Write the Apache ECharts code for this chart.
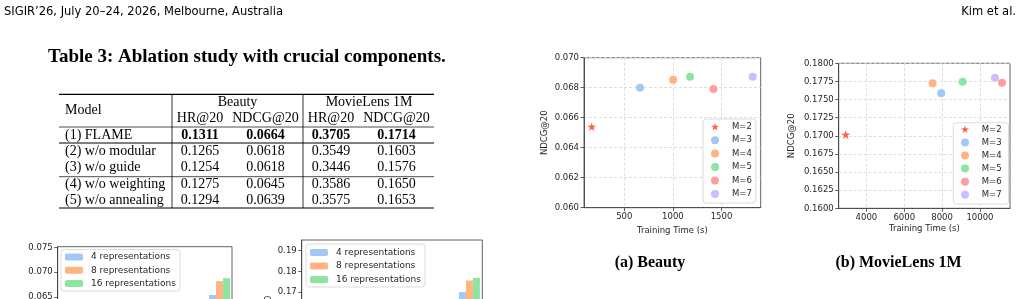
<!DOCTYPE html>
<html>
<head>
<meta charset="UTF-8">
<title>Table 3 ablation and M sweep</title>
<script src="https://cdn.jsdelivr.net/npm/echarts@6/dist/echarts.min.js"></script>
<style>
  html, body { margin: 0; background: #fff; overflow: hidden; }
  #main { width: 1021px; height: 299px; }
</style>
</head>
<body>
<div id="main"></div>
<script type="text/javascript">
// ---- page text ----
var headerLeft = 'SIGIR\u201926, July 20\u201324, 2026, Melbourne, Australia';
var headerRight = 'Kim et al.';
var tableTitle = 'Table 3: Ablation study with crucial components.';
var captions = ['(a) Beauty', '(b) MovieLens 1M'];

// ---- table 3 ----
var datasets = ['Beauty', 'MovieLens 1M'];
var metrics = ['HR@20', 'NDCG@20', 'HR@20', 'NDCG@20'];
var models = ['(1) FLAME', '(2) w/o modular', '(3) w/o guide', '(4) w/o weighting', '(5) w/o annealing'];
var results = [
    [0.1311, 0.0664, 0.3705, 0.1714],
    [0.1265, 0.0618, 0.3549, 0.1603],
    [0.1254, 0.0618, 0.3446, 0.1576],
    [0.1275, 0.0645, 0.3586, 0.1650],
    [0.1294, 0.0639, 0.3575, 0.1653]
];

// ---- scatter: training time vs NDCG@20 for each M ----
var mNames = ['M=2', 'M=3', 'M=4', 'M=5', 'M=6', 'M=7'];
var beautyTime = [166, 662, 1003, 1176, 1417, 1821];
var beautyNdcg = [0.0654, 0.0680, 0.06853, 0.06873, 0.06791, 0.06873];
var mlTime = [2906, 7953, 7494, 9082, 11164, 10794];
var mlNdcg = [0.17016, 0.17586, 0.17724, 0.17747, 0.17733, 0.17802];
var beautyTimeTicks = [500, 1000, 1500];
var mlTimeTicks = [4000, 6000, 8000, 10000];

// ---- bars: number of representations (only the last group is inside the crop,
//      the other groups sit below the bottom edge, so they stay null) ----
var repNames = ['4 representations', '8 representations', '16 representations'];
var repGroups = ['g1', 'g2', 'g3', 'g4', 'g5', 'g6', 'g7'];
var beautyRep4 = [null, null, null, null, null, null, 0.0654];
var beautyRep8 = [null, null, null, null, null, null, 0.0682];
var beautyRep16 = [null, null, null, null, null, null, 0.0688];
var mlRep4 = [null, null, null, null, null, null, 0.1700];
var mlRep8 = [null, null, null, null, null, null, 0.1756];
var mlRep16 = [null, null, null, null, null, null, 0.1769];

var chart = echarts.init(document.getElementById('main'));

var serif = '"Liberation Serif", "DejaVu Serif", serif';
var sans = '"DejaVu Sans", sans-serif';
var narrow = '"Liberation Sans Narrow", "DejaVu Sans Condensed", sans-serif';
var mColors = ['#ff6347', '#a1c9f4', '#ffb482', '#8de5a1', '#ff9f9b', '#d0bbff'];
var repColors = ['#a1c9f4', '#ffb482', '#8de5a1'];
var starPath = 'path://M50,0L61.8,35.1L98.9,35.5L69.1,57.6L80.3,93L50,71.5L19.7,93L30.9,57.6L1.1,35.5L38.2,35.1Z';
var ink = '#262626';
var frame = '#3a3a3a';

function txt(text, x, y, font, align) {
    return {
        type: 'text', silent: true,
        style: {
            text: text, x: x, y: y, font: font, fill: '#000',
            textAlign: align || 'left', align: align || 'left',
            textVerticalAlign: 'middle', verticalAlign: 'middle'
        }
    };
}
function rule(x1, y1, x2, y2, w, c) {
    return {
        type: 'line', silent: true,
        shape: { x1: x1, y1: y1, x2: x2, y2: y2 },
        style: { stroke: c || '#000', lineWidth: w }
    };
}

// table layout
var colX = [200, 265.5, 331, 396.5];
var groupX = [237.5, 369];
var rowY = [135, 151.7, 167.7, 184, 200];
var body = '14px ' + serif;

var graphics = [];
graphics.push(txt(headerLeft, 4, 12, '12.8px ' + narrow));
graphics.push(txt(headerRight, 1016, 12, '12.8px ' + narrow, 'right'));
graphics.push(txt(tableTitle, 48, 57.5, 'bold 19px ' + serif));

graphics.push(rule(59, 94.3, 434, 94.3, 1.2));
graphics.push(rule(59, 127, 434, 127, 0.7));
graphics.push(rule(59, 143, 434, 143, 1.5, '#555'));
graphics.push(rule(59, 176.7, 434, 176.7, 0.7));
graphics.push(rule(59, 208, 434, 208, 1.2));
graphics.push(rule(172, 94.3, 172, 208, 0.8));
graphics.push(rule(303, 94.3, 303, 208, 0.8));

graphics.push(txt('Model', 65, 110, body));
datasets.forEach(function (d, i) { graphics.push(txt(d, groupX[i], 102, body, 'center')); });
metrics.forEach(function (m, i) { graphics.push(txt(m, colX[i], 118.5, body, 'center')); });
models.forEach(function (m, r) {
    graphics.push(txt(m, 65, rowY[r], body));
    results[r].forEach(function (v, c) {
        graphics.push(txt(v.toFixed(4), colX[c], rowY[r], (r === 0 ? 'bold ' : '') + body, 'center'));
    });
});

graphics.push(txt(captions[0], 650, 263, 'bold 16px ' + serif, 'center'));
graphics.push(txt(captions[1], 898.5, 263, 'bold 16px ' + serif, 'center'));

// axes helpers
function labelStyle(fmt, extra) {
    var o = { color: ink, fontSize: 8.5, fontFamily: sans, margin: 5, formatter: fmt };
    for (var k in extra) o[k] = extra[k];
    return o;
}
function plain(v) { return String(v); }
var dashed = { show: true, lineStyle: { type: [3, 2], color: '#d6d6d6', width: 0.8 } };
var axisLine = { show: true, lineStyle: { color: frame, width: 0.8 } };
var tick = { show: true, length: 3.5, lineStyle: { color: frame, width: 0.8 } };
var nameStyle = { color: ink, fontSize: 8.5, fontFamily: sans };
function gridBox(left, top, width, height) {
    return {
        left: left, top: top, width: width, height: height,
        show: true, borderColor: frame, borderWidth: 0.8, backgroundColor: 'transparent',
        containLabel: false, outerBoundsMode: 'none'
    };
}

var series = [];
mNames.forEach(function (n, i) {
    series.push({
        type: 'scatter', name: n, xAxisIndex: 0, yAxisIndex: 0,
        data: [[beautyTime[i], beautyNdcg[i]]],
        symbol: i === 0 ? starPath : 'circle', symbolKeepAspect: true,
        symbolSize: i === 0 ? 9 : 8,
        itemStyle: { color: mColors[i], opacity: 1 }
    });
    series.push({
        type: 'scatter', name: n, xAxisIndex: 1, yAxisIndex: 1,
        data: [[mlTime[i], mlNdcg[i]]],
        symbol: i === 0 ? starPath : 'circle', symbolKeepAspect: true,
        symbolSize: i === 0 ? 9 : 8,
        itemStyle: { color: mColors[i], opacity: 1 }
    });
});
[beautyRep4, beautyRep8, beautyRep16].forEach(function (d, k) {
    series.push({ type: 'bar', name: repNames[k], xAxisIndex: 2, yAxisIndex: 2, data: d,
        barWidth: 7, barGap: '0%', itemStyle: { color: repColors[k] } });
});
[mlRep4, mlRep8, mlRep16].forEach(function (d, k) {
    series.push({ type: 'bar', name: repNames[k], xAxisIndex: 3, yAxisIndex: 3, data: d,
        barWidth: 7, barGap: '0%', itemStyle: { color: repColors[k] } });
});

function legendBox(data, left, top, padding, itemWidth, itemHeight, gap, font, lh, textPad) {
    return {
        data: data, orient: 'vertical', left: left, top: top, padding: padding,
        itemWidth: itemWidth, itemHeight: itemHeight, itemGap: gap, selectedMode: false,
        textStyle: { color: ink, fontSize: font, fontFamily: sans, lineHeight: lh, padding: [0, 0, 0, textPad] },
        backgroundColor: 'rgba(255,255,255,0.85)', borderColor: '#d3d3d3', borderWidth: 0.8, borderRadius: 3
    };
}

var option = {
    animation: false,
    backgroundColor: '#fff',
    graphic: graphics,
    grid: [
        gridBox(584, 57.7, 176.7, 150),
        gridBox(838.7, 63.3, 171.3, 145),
        gridBox(57.7, 246.7, 174.3, 148.6),
        gridBox(301.7, 240, 180.6, 156)
    ],
    xAxis: [
        {
            type: 'value', gridIndex: 0, min: 86, max: 1903, minInterval: 500, maxInterval: 500,
            axisLine: axisLine, axisTick: { show: true, length: 3.5, lineStyle: tick.lineStyle, customValues: beautyTimeTicks },
            axisLabel: labelStyle(plain, { customValues: beautyTimeTicks }),
            splitLine: dashed,
            name: 'Training Time (s)', nameLocation: 'middle', nameGap: 17, nameTextStyle: nameStyle
        },
        {
            type: 'value', gridIndex: 1, min: 2535, max: 11588, minInterval: 2000, maxInterval: 2000,
            axisLine: axisLine, axisTick: { show: true, length: 3.5, lineStyle: tick.lineStyle, customValues: mlTimeTicks },
            axisLabel: labelStyle(plain, { customValues: mlTimeTicks }),
            splitLine: dashed,
            name: 'Training Time (s)', nameLocation: 'middle', nameGap: 16, nameTextStyle: nameStyle
        },
        {
            type: 'category', gridIndex: 2, data: repGroups,
            axisLine: axisLine, axisTick: { show: false }, axisLabel: { show: false }, splitLine: { show: false }
        },
        {
            type: 'category', gridIndex: 3, data: repGroups,
            axisLine: axisLine, axisTick: { show: false }, axisLabel: { show: false }, splitLine: { show: false }
        }
    ],
    yAxis: [
        {
            type: 'value', gridIndex: 0, min: 0.060, max: 0.070, interval: 0.002,
            axisLine: axisLine, axisTick: tick,
            axisLabel: labelStyle(function (v) { return v.toFixed(3); }),
            splitLine: dashed,
            name: 'NDCG@20', nameLocation: 'middle', nameGap: 34.5, nameTextStyle: nameStyle
        },
        {
            type: 'value', gridIndex: 1, min: 0.16, max: 0.18, interval: 0.0025,
            axisLine: axisLine, axisTick: tick,
            axisLabel: labelStyle(function (v) { return v.toFixed(4); }),
            splitLine: dashed,
            name: 'NDCG@20', nameLocation: 'middle', nameGap: 42, nameTextStyle: nameStyle
        },
        {
            type: 'value', gridIndex: 2, min: 0.045, max: 0.0752, interval: 0.005,
            axisLine: axisLine, axisTick: tick,
            axisLabel: labelStyle(function (v) { return v.toFixed(3); }, { showMaxLabel: false }),
            splitLine: { show: false },
            name: 'NDCG@20', nameLocation: 'middle', nameGap: 32.7, nameTextStyle: nameStyle
        },
        {
            type: 'value', gridIndex: 3, min: 0.12, max: 0.1951, interval: 0.01,
            axisLine: axisLine, axisTick: tick,
            axisLabel: labelStyle(function (v) { return v.toFixed(2); }, { showMaxLabel: false }),
            splitLine: { show: false },
            name: 'NDCG@20', nameLocation: 'middle', nameGap: 28.7, nameTextStyle: nameStyle
        }
    ],
    legend: [
        legendBox(mNames, 703, 119, [2.7, 4, 4, 8], 8, 8, 3.46, 8.5, 10, 8),
        legendBox(mNames, 953.3, 122.7, [1.6, 7, 4.2, 7.7], 8, 8, 3.1, 8.5, 10, 7.7),
        legendBox(repNames, 61, 249.5, [2, 4, 2, 4], 18, 7, 2.3, 9, 11, 3),
        legendBox(repNames, 306, 244, [3, 4, 2, 4], 18, 7, 2.5, 9, 11, 3)
    ],
    series: series
};

chart.setOption(option);
</script>
</body>
</html>
